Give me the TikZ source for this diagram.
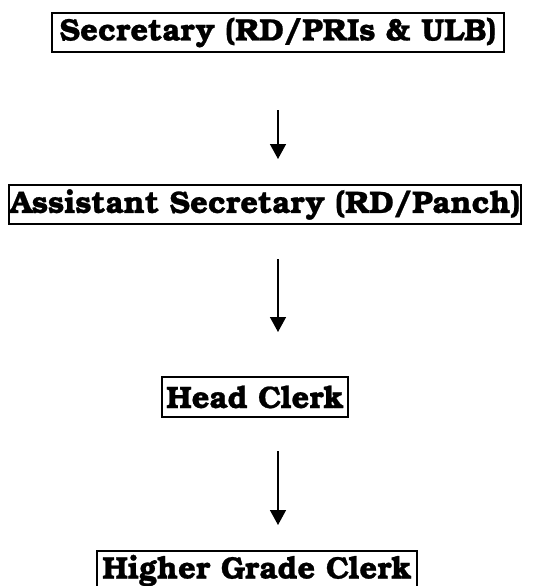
\documentclass[tikz,border=0pt]{standalone}
\usepackage{fontspec}
\setmainfont[BoldFeatures={FakeBold=0.8}]{TeX Gyre Bonum}
\usetikzlibrary{arrows.meta}
\begin{document}
\begin{tikzpicture}[x=1pt,y=-1pt,
  box/.style={draw=black,line width=1.6pt,inner sep=0pt,minimum height=39pt,font=\fontsize{31}{33}\selectfont\bfseries},
  flow/.style={line width=1.5pt,-{Triangle[width=16pt,length=15pt]}}]
\useasboundingbox (0,0) rectangle (540,586);
\clip (0,0) rectangle (540,586);
\node[box,minimum width=452pt] (sec) at (278,32.5) {Secretary (RD/PRIs \& ULB)};
\node[box,minimum width=512pt] (asst) at (265,204.5) {Assistant Secretary (RD/Panch)};
\node[box,minimum width=186pt,minimum height=40pt] (head) at (255,397) {Head Clerk};
\node[box,minimum width=320pt] (hgc) at (257,570.5) {Higher Grade Clerk};
\coordinate (a1s) at (278,110);
\coordinate (a1e) at (278,159);
\coordinate (a2s) at (278,259);
\coordinate (a2e) at (278,332);
\coordinate (a3s) at (278,451);
\coordinate (a3e) at (278,525);
\draw[flow] (a1s) -- (a1e);
\draw[flow] (a2s) -- (a2e);
\draw[flow] (a3s) -- (a3e);
\end{tikzpicture}
\end{document}
